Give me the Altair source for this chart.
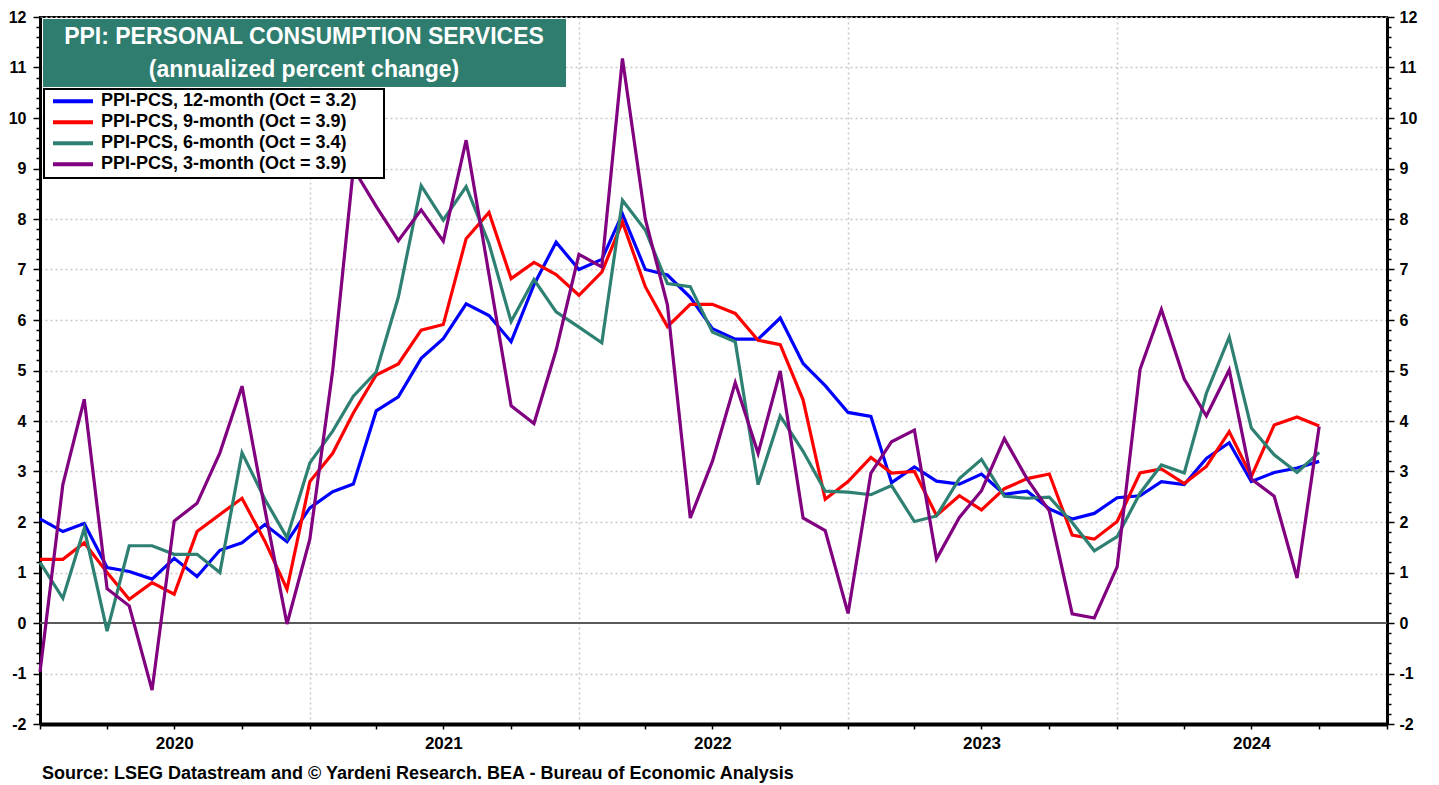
import altair as alt
import pandas as pd

# ---------------- data ----------------
months = [f"{y}-{m:02d}-01" for y in range(2020, 2025) for m in range(1, 13)][:58]

pcs_12m = [2.06, 1.81, 1.97, 1.10, 1.02, 0.87, 1.28, 0.92, 1.44, 1.59, 1.95, 1.61,
           2.28, 2.60, 2.75, 4.20, 4.48, 5.24, 5.63, 6.32, 6.09, 5.57, 6.70, 7.54,
           7.00, 7.20, 8.10, 7.00, 6.89, 6.45, 5.83, 5.62, 5.62, 6.04, 5.14, 4.70,
           4.17, 4.09, 2.78, 3.09, 2.81, 2.75, 2.95, 2.55, 2.61, 2.26, 2.06, 2.17,
           2.48, 2.52, 2.80, 2.74, 3.26, 3.57, 2.80, 2.98, 3.07, 3.20]

pcs_9m = [1.26, 1.26, 1.59, 1.00, 0.47, 0.80, 0.57, 1.81, 2.15, 2.47, 1.62, 0.67,
          2.80, 3.36, 4.16, 4.91, 5.13, 5.80, 5.91, 7.61, 8.13, 6.82, 7.14, 6.90,
          6.49, 6.95, 7.94, 6.66, 5.87, 6.31, 6.31, 6.13, 5.60, 5.51, 4.42, 2.45,
          2.80, 3.28, 2.97, 3.00, 2.13, 2.52, 2.24, 2.66, 2.86, 2.95, 1.74, 1.66,
          2.01, 2.97, 3.05, 2.76, 3.10, 3.79, 2.90, 3.92, 4.08, 3.90]

pcs_6m = [1.20, 0.49, 1.87, -0.16, 1.53, 1.53, 1.36, 1.36, 1.00, 3.37, 2.45, 1.69,
          3.17, 3.80, 4.49, 4.97, 6.45, 8.66, 7.98, 8.64, 7.51, 5.97, 6.80, 6.16,
          5.86, 5.55, 8.37, 7.78, 6.72, 6.66, 5.76, 5.57, 2.74, 4.10, 3.40, 2.61,
          2.59, 2.54, 2.72, 2.01, 2.12, 2.86, 3.24, 2.51, 2.47, 2.49, 1.99, 1.43,
          1.71, 2.57, 3.13, 2.97, 4.55, 5.66, 3.86, 3.33, 2.98, 3.38]

pcs_3m = [-0.97, 2.74, 4.43, 0.68, 0.34, -1.33, 2.02, 2.37, 3.37, 4.69, 2.25, -0.02,
          1.66, 5.00, 9.00, 8.25, 7.57, 8.18, 7.56, 9.56, 6.90, 4.30, 3.95, 5.40,
          7.30, 7.05, 11.18, 8.00, 6.30, 2.08, 3.20, 4.76, 3.36, 4.99, 2.08, 1.83,
          0.19, 2.97, 3.59, 3.82, 1.27, 2.09, 2.62, 3.65, 2.85, 2.22, 0.18, 0.10,
          1.11, 5.02, 6.21, 4.83, 4.10, 5.01, 2.85, 2.51, 0.89, 3.89]

series_names = [
    "PPI-PCS, 12-month (Oct = 3.2)",
    "PPI-PCS, 9-month (Oct = 3.9)",
    "PPI-PCS, 6-month (Oct = 3.4)",
    "PPI-PCS, 3-month (Oct = 3.9)",
]
series_colors = ["#0000ff", "#ff0000", "#2e8072", "#800080"]
series_values = [pcs_12m, pcs_9m, pcs_6m, pcs_3m]

title_line1 = "PPI: PERSONAL CONSUMPTION SERVICES"
title_line2 = "(annualized percent change)"
source_text = "Source: LSEG Datastream and \u00a9 Yardeni Research. BEA - Bureau of Economic Analysis"

y_ticks = [round(-2 + 0.2 * k, 1) for k in range(71)]
x_tick_dates = [f"{y}-{m:02d}-01" for y in range(2020, 2025) for m in (1, 4, 7, 10)] + ["2025-01-01"]


def ms(d):
    return int(pd.Timestamp(d, tz="UTC").value // 10**6)


x_ticks = [ms(d) for d in x_tick_dates]

rows = []
for k, (name, vals) in enumerate(zip(series_names, series_values)):
    for d, v in zip(months, vals):
        rows.append({"date": ms(d), "value": v, "series": name, "order": k})
df = pd.DataFrame(rows)

FONT = "Liberation Sans"
W, H = 1347, 707

x_scale = alt.Scale(type="utc", nice=False, domain=[ms("2020-01-01"), ms("2025-01-01")])
y_scale = alt.Scale(domain=[-2, 12], nice=False, zero=False)

int_test = "abs(datum.value - round(datum.value)) < 0.001"
y_label_expr = f"{int_test} ? '' + round(datum.value) : ''"

x_axis = alt.Axis(
    values=x_ticks, title=None, labelOverlap=False, labelFlush=False,
    labelExpr="utcmonth(datum.value) == 6 ? '' + utcyear(datum.value) : ''",
    grid=True,
    gridOpacity={"condition": {"test": "utcmonth(datum.value) == 0", "value": 1}, "value": 0},
    gridDash=[2, 3], gridColor="#c8c8c8", gridWidth=1.5,
    tickSize=5, tickColor="black", tickWidth=1.5,
    domainColor="black", domainWidth=4,
    labelFont=FONT, labelFontSize=17, labelFontWeight="bold", labelColor="black",
    labelPadding=6,
)

y_axis_left = alt.Axis(
    values=y_ticks, title=None, orient="left", labelOverlap=False,
    labelExpr=y_label_expr,
    grid=True,
    gridOpacity={"condition": {"test": f"{int_test} && abs(datum.value) > 0.001", "value": 1}, "value": 0},
    gridDash=[2, 3], gridColor="#c8c8c8", gridWidth=1.5,
    tickSize={"condition": {"test": int_test, "value": 7}, "value": 4},
    tickColor="black", tickWidth=1.5,
    domainColor="black", domainWidth=3,
    labelFont=FONT, labelFontSize=16, labelFontWeight="bold", labelColor="black",
    labelPadding=7,
)

y_axis_right = alt.Axis(
    values=y_ticks, title=None, orient="right", labelOverlap=False,
    labelExpr=y_label_expr,
    grid=False,
    tickSize={"condition": {"test": int_test, "value": 7}, "value": 4},
    tickColor="black", tickWidth=1.5,
    domainColor="black", domainWidth=3,
    labelFont=FONT, labelFontSize=16, labelFontWeight="bold", labelColor="black",
    labelPadding=5,
)

zero_df = pd.DataFrame({"v": [0]})
zero_rule = alt.Chart(zero_df).mark_rule(color="#5a5a5a", strokeWidth=1.8).encode(
    y=alt.Y("v:Q", scale=y_scale, axis=None)
)

legend_box = alt.Chart(zero_df).mark_rect(fill="white", stroke="black", strokeWidth=2).encode(
    x=alt.value(4), x2=alt.value(344), y=alt.value(72), y2=alt.value(161)
)

lines = alt.Chart(df).mark_line(strokeWidth=3.2, strokeJoin="miter").encode(
    x=alt.X("date:T", scale=x_scale, axis=x_axis),
    y=alt.Y("value:Q", scale=y_scale, axis=y_axis_left),
    color=alt.Color(
        "series:N",
        scale=alt.Scale(domain=series_names, range=series_colors),
        legend=alt.Legend(
            title=None, orient="none", legendX=11, legendY=74,
            symbolType="stroke", symbolStrokeWidth=4, symbolSize=1600,
            clipHeight=20.5, rowPadding=0, padding=0,
            labelFont=FONT, labelFontSize=18, labelFontWeight="bold", labelColor="black",
            labelOffset=6, labelLimit=0, zindex=2,
        ),
    ),
    order=alt.Order("order:Q"),
)

right_axis = alt.Chart(zero_df).mark_rule(opacity=0).encode(
    y=alt.Y("v:Q", scale=y_scale, axis=y_axis_right),
)

title_df = pd.DataFrame({"t": [title_line1]})
title_box = alt.Chart(title_df).mark_rect(fill="#2e7d6f").encode(
    x=alt.value(3), x2=alt.value(526), y=alt.value(2), y2=alt.value(70)
)
title_t1 = alt.Chart(title_df).mark_text(
    font=FONT, fontSize=23, fontWeight="bold", color="white", align="center", baseline="middle"
).encode(text="t:N", x=alt.value(264), y=alt.value(20))
title_t2 = alt.Chart(pd.DataFrame({"t": [title_line2]})).mark_text(
    font=FONT, fontSize=23, fontWeight="bold", color="white", align="center", baseline="middle"
).encode(text="t:N", x=alt.value(264), y=alt.value(53))

source = alt.Chart(pd.DataFrame({"t": [source_text]})).mark_text(
    font=FONT, fontSize=18, fontWeight="bold", color="black", align="left", baseline="middle"
).encode(text="t:N", x=alt.value(2), y=alt.value(757))

chart = alt.layer(
    zero_rule, lines, right_axis, legend_box, title_box, title_t1, title_t2, source
).resolve_axis(y="independent").properties(
    width=W, height=H,
    autosize=alt.AutoSizeParams(type="none"),
    padding={"left": 32, "top": 9, "right": 44, "bottom": 60},
    background="white",
).configure_view(stroke="black", strokeWidth=2)

chart.save("out.html", embed_options={"renderer": "svg", "actions": False})
